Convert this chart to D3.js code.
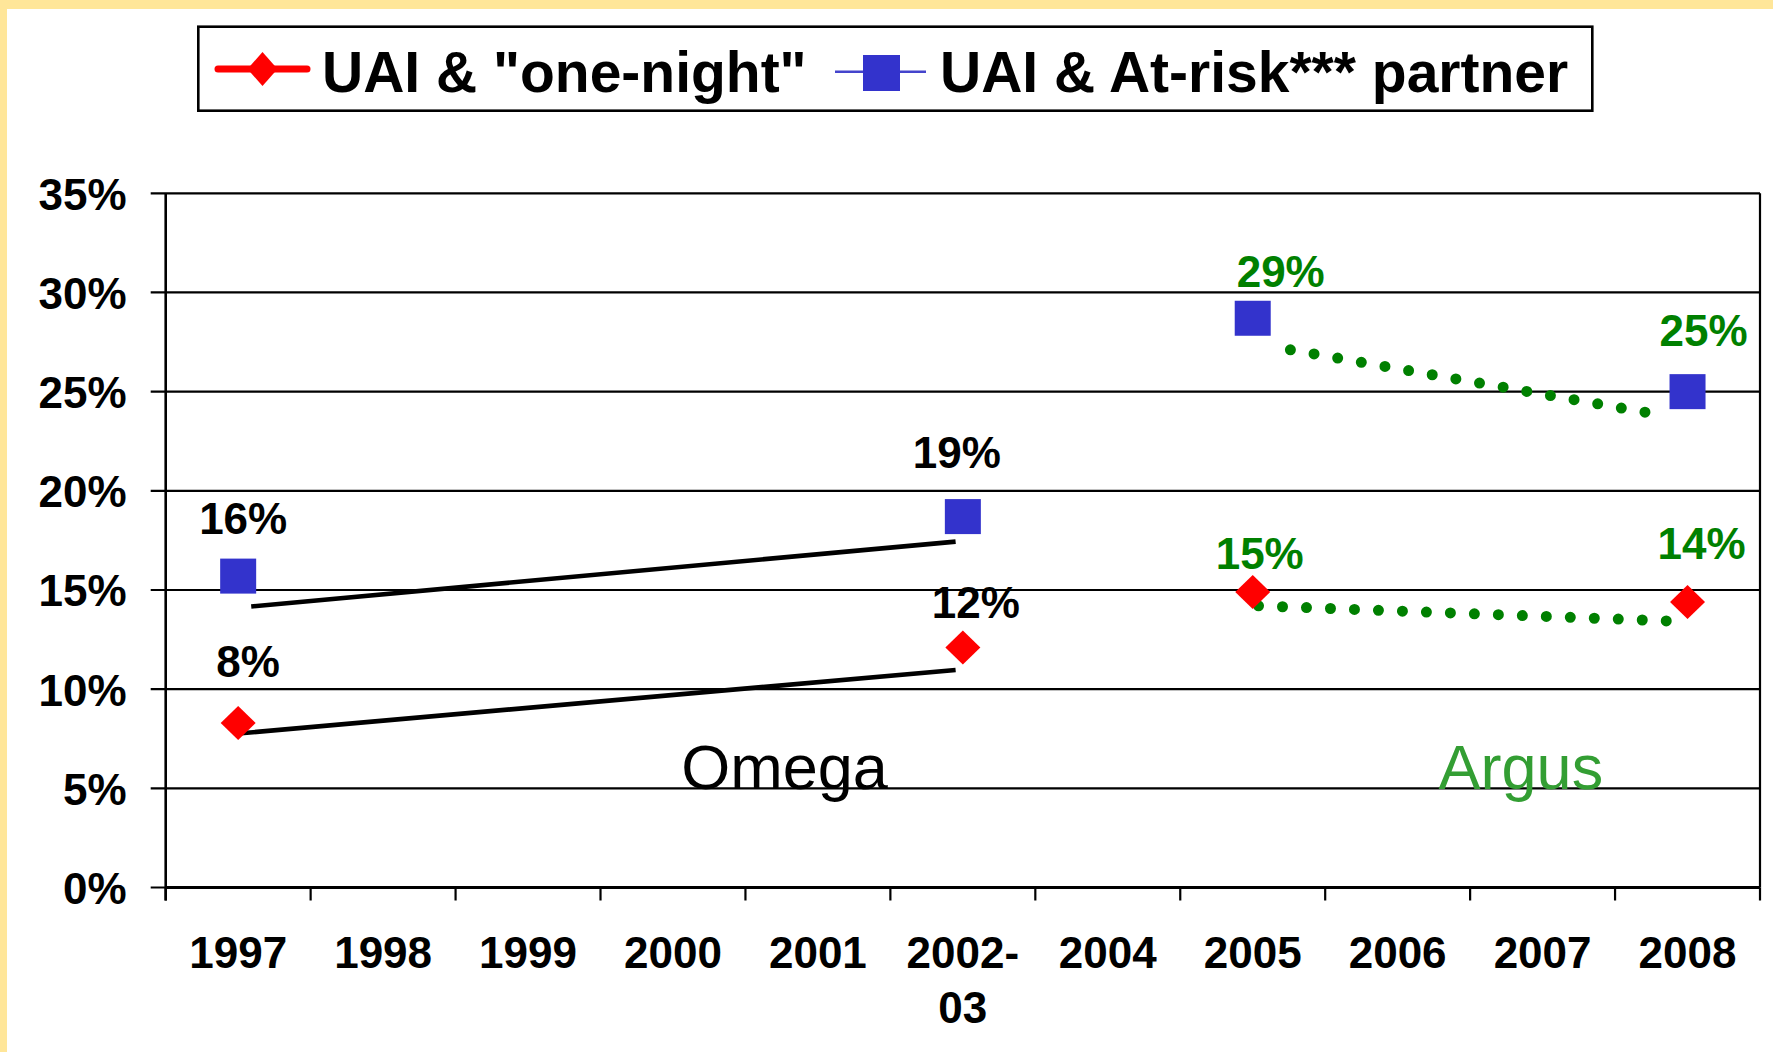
<!DOCTYPE html>
<html>
<head>
<meta charset="utf-8">
<script src="https://cdn.jsdelivr.net/npm/d3@7"></script>
<style>
  body { margin: 0; background: #fff; }
  svg { display: block; font-family: "Liberation Sans", Arial, sans-serif; }
</style>
</head>
<body>
<div id="chart"></div>
<script>
// Categories and tick labels
const years = ["1997", "1998", "1999", "2000", "2001", "2002-03", "2004", "2005", "2006", "2007", "2008"];
const yTicks = [0, 5, 10, 15, 20, 25, 30, 35];

// Series values (%), by year
const oneNight = [
  { year: "1997", value: 8.3 },
  { year: "2002-03", value: 12.1 },
  { year: "2005", value: 14.9 },
  { year: "2008", value: 14.4 }
];
const atRisk = [
  { year: "1997", value: 15.7 },
  { year: "2002-03", value: 18.7 },
  { year: "2005", value: 28.7 },
  { year: "2008", value: 25.0 }
];

// Trend segments: [category index, value]
const omegaOneNightTrend = [[-0.02, 7.75], [4.95, 10.97]];
const omegaAtRiskTrend = [[0.09, 14.17], [4.95, 17.44]];
const argusAtRiskTrend = [[7.26, 27.11], [9.71, 23.96]];
const argusOneNightTrend = [[7.04, 14.2], [9.86, 13.44]];

// Hand placed label nudges (px), same order as the series arrays
const oneNightNudge = [[10, -46], [13, -30], [7, -23], [14, -43]];
const atRiskNudge = [[5, -42], [-6, -49], [28, -31], [16, -46]];

const W = 1773, H = 1052;
const plot = { left: 165.7, right: 1760, top: 193.3, bottom: 887.5 };

const svg = d3.select("#chart").append("svg")
  .attr("width", W).attr("height", H);

// yellow slide frame
svg.append("rect").attr("width", W).attr("height", H).attr("fill", "#FFE699");
svg.append("rect").attr("x", 7).attr("y", 9).attr("width", W - 7).attr("height", H - 9).attr("fill", "#fff");

const x = d3.scaleBand().domain(years).range([plot.left, plot.right]).padding(0);
const xi = d3.scaleLinear().domain([-0.5, years.length - 0.5]).range([plot.left, plot.right]);
const y = d3.scaleLinear().domain([0, 35]).range([plot.bottom, plot.top]);
const cx = yr => x(yr) + x.bandwidth() / 2;
const pct = v => Math.round(v) + "%";

// gridlines
svg.append("g").selectAll("line")
  .data(yTicks)
  .join("line")
  .attr("x1", plot.left - 15).attr("x2", plot.right)
  .attr("y1", d => y(d)).attr("y2", d => y(d))
  .attr("stroke", "#000").attr("stroke-width", 2.2);

// right border of plot
svg.append("line")
  .attr("x1", plot.right).attr("x2", plot.right)
  .attr("y1", plot.top).attr("y2", plot.bottom)
  .attr("stroke", "#000").attr("stroke-width", 2.2);

// y axis
const yAxis = svg.append("g")
  .attr("transform", `translate(${plot.left},0)`)
  .call(d3.axisLeft(y).tickValues(yTicks).tickSize(0).tickPadding(39).tickFormat(d => d + "%"));
yAxis.select(".domain").remove();
yAxis.selectAll("text")
  .attr("font-size", 44).attr("font-weight", "bold").attr("fill", "#000")
  .attr("dy", "0.36em")
  .attr("font-family", "'Liberation Sans', Arial, sans-serif");

svg.append("line")
  .attr("x1", plot.left).attr("x2", plot.left)
  .attr("y1", plot.top).attr("y2", plot.bottom + 13)
  .attr("stroke", "#000").attr("stroke-width", 2.6);

// x axis
const xAxis = svg.append("g")
  .attr("transform", `translate(0,${plot.bottom})`)
  .call(d3.axisBottom(x).tickSize(0).tickFormat(""));
xAxis.select(".domain").remove();

svg.append("line")
  .attr("x1", plot.left).attr("x2", plot.right)
  .attr("y1", plot.bottom).attr("y2", plot.bottom)
  .attr("stroke", "#000").attr("stroke-width", 2.8);

svg.append("g").selectAll("line")
  .data(years.concat(["end"]))
  .join("line")
  .attr("x1", (d, i) => xi(i - 0.5)).attr("x2", (d, i) => xi(i - 0.5))
  .attr("y1", plot.bottom).attr("y2", plot.bottom + 13)
  .attr("stroke", "#000").attr("stroke-width", 2.2);

const xLabels = svg.append("g").selectAll("text")
  .data(years)
  .join("text")
  .attr("x", d => cx(d))
  .attr("y", 968)
  .attr("text-anchor", "middle")
  .attr("font-size", 44).attr("font-weight", "bold");
xLabels.each(function (d) {
  const parts = d.includes("-") ? [d.split("-")[0] + "-", d.split("-")[1]] : [d];
  d3.select(this).selectAll("tspan")
    .data(parts)
    .join("tspan")
    .attr("x", cx(d))
    .attr("dy", (p, i) => i === 0 ? 0 : 55)
    .text(p => p);
});

// trend lines
const line = d3.line().x(d => xi(d[0])).y(d => y(d[1]));

[omegaOneNightTrend, omegaAtRiskTrend].forEach(t => {
  svg.append("path")
    .attr("d", line(t))
    .attr("fill", "none").attr("stroke", "#000").attr("stroke-width", 4.6);
});

[argusAtRiskTrend, argusOneNightTrend].forEach(t => {
  svg.append("path")
    .attr("d", line(t))
    .attr("fill", "none").attr("stroke", "#008000")
    .attr("stroke-width", 11).attr("stroke-linecap", "round")
    .attr("stroke-dasharray", "0 24");
});

// markers
const diamond = (w, h) => `M0,${-h / 2}L${w / 2},0L0,${h / 2}L${-w / 2},0Z`;

svg.append("g").selectAll("rect")
  .data(atRisk)
  .join("rect")
  .attr("x", d => cx(d.year) - 18)
  .attr("y", d => y(d.value) - 17.5)
  .attr("width", 36).attr("height", 35)
  .attr("fill", "#3333CC");

svg.append("g").selectAll("path")
  .data(oneNight)
  .join("path")
  .attr("transform", d => `translate(${cx(d.year)},${y(d.value)})`)
  .attr("d", diamond(35, 34))
  .attr("fill", "#FF0000");

// data labels
const labelColor = yr => (yr === "2005" || yr === "2008") ? "#008000" : "#000";

function addLabels(data, nudge) {
  svg.append("g").selectAll("text")
    .data(data)
    .join("text")
    .attr("x", (d, i) => cx(d.year) + nudge[i][0])
    .attr("y", (d, i) => y(d.value) + nudge[i][1])
    .attr("text-anchor", "middle")
    .attr("font-size", 44).attr("font-weight", "bold")
    .attr("fill", d => labelColor(d.year))
    .text(d => pct(d.value));
}
addLabels(oneNight, oneNightNudge);
addLabels(atRisk, atRiskNudge);

// study names
svg.append("text")
  .attr("x", xi(3.77)).attr("y", 789)
  .attr("text-anchor", "middle")
  .attr("font-size", 63).attr("fill", "#000")
  .text("Omega");

svg.append("text")
  .attr("x", xi(8.85)).attr("y", 789)
  .attr("text-anchor", "middle")
  .attr("font-size", 63).attr("fill", "#339E33")
  .text("Argus");

// legend
const legend = svg.append("g");
legend.append("rect")
  .attr("x", 198.3).attr("y", 26.7)
  .attr("width", 1394).attr("height", 84)
  .attr("fill", "#fff").attr("stroke", "#000").attr("stroke-width", 2.6);

legend.append("line")
  .attr("x1", 218).attr("x2", 307).attr("y1", 69).attr("y2", 69)
  .attr("stroke", "#FF0000").attr("stroke-width", 7).attr("stroke-linecap", "round");
legend.append("path")
  .attr("transform", "translate(262.5,69)")
  .attr("d", diamond(30, 34))
  .attr("fill", "#FF0000");
legend.append("text")
  .attr("x", 322).attr("y", 91.7)
  .attr("font-size", 57).attr("font-weight", "bold")
  .text('UAI & "one-night"');

legend.append("line")
  .attr("x1", 835).attr("x2", 926).attr("y1", 71.7).attr("y2", 71.7)
  .attr("stroke", "#4444CC").attr("stroke-width", 2.5);
legend.append("rect")
  .attr("x", 863).attr("y", 55).attr("width", 37).attr("height", 36)
  .attr("fill", "#3333CC");
legend.append("text")
  .attr("x", 940).attr("y", 91.7)
  .attr("font-size", 57).attr("font-weight", "bold")
  .text("UAI & At-risk*** partner");
</script>
</body>
</html>
